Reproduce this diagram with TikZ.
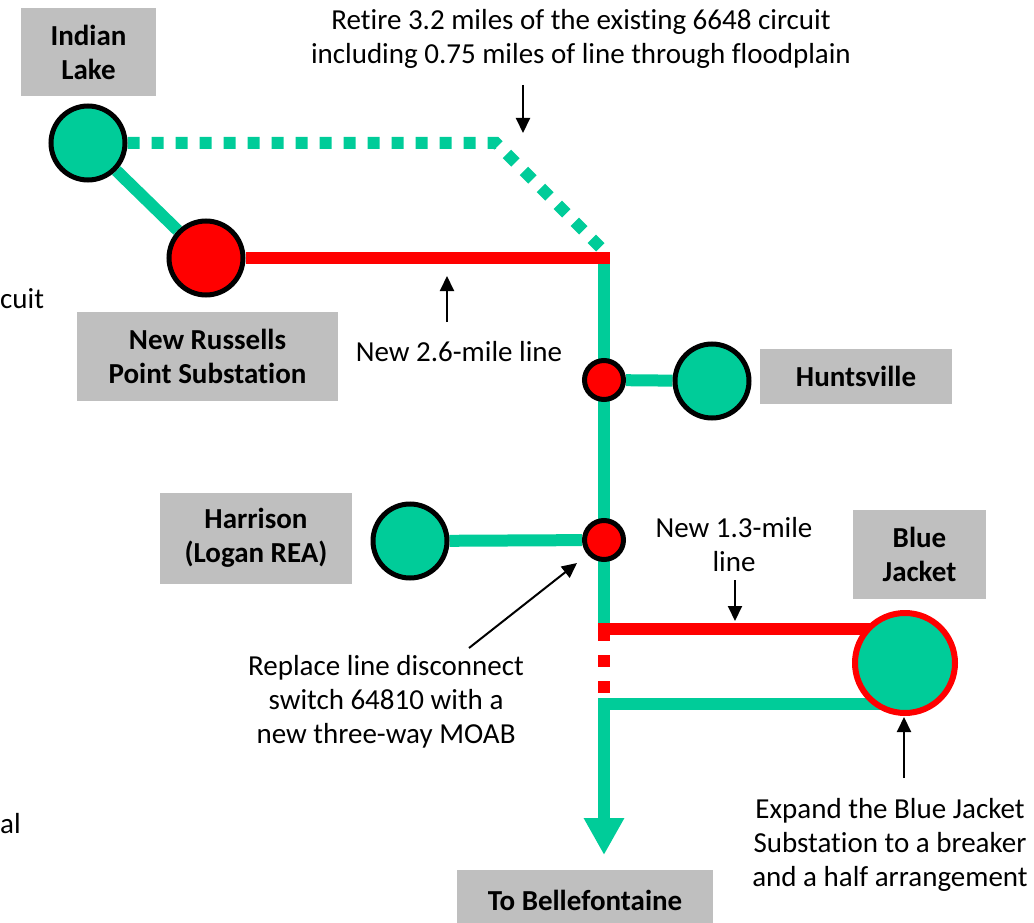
\documentclass[tikz,border=0pt]{standalone}
\usepackage{fontspec}
\setmainfont{Carlito}[Ligatures=NoCommon]
\usetikzlibrary{arrows.meta}
\definecolor{lineteal}{RGB}{0,204,153}
\definecolor{linered}{RGB}{255,0,0}
\definecolor{boxgray}{RGB}{191,191,191}
\pgfdeclarelayer{bg}
\pgfsetlayers{bg,main}
\begin{document}
\begin{tikzpicture}[x=1pt,y=-1pt,
  txt/.style={font=\fontsize{29}{34}\selectfont,align=center,inner sep=0pt},
  place/.style={txt,font=\fontsize{29}{34}\selectfont\bfseries,fill=boxgray},
  sub/.style={circle,draw=black,line width=5pt,fill=lineteal,minimum size=74pt,inner sep=0pt},
  newsub/.style={sub,fill=linered},
  tap/.style={circle,draw=black,line width=5pt,fill=linered,minimum size=39pt,inner sep=0pt},
  tealline/.style={lineteal,line width=12pt},
  redline/.style={linered,line width=12pt},
  callout/.style={-{Triangle[length=15pt,width=14pt]},line width=2pt}]
\useasboundingbox (0,0) rectangle (1034,923);

% Substations and taps
\node[sub] (il) at (88,143) {};
\node[newsub] (nr) at (206,258) {};
\node[tap] (jh) at (604,380) {};
\node[sub] (hv) at (712,381) {};
\node[sub] (hr) at (410,541) {};
\node[tap] (jr) at (604,540) {};
\node[sub,draw=linered,line width=6pt,minimum size=100pt] (bj) at (905,663) {};

% Station labels
\node[place,minimum width=135pt,minimum height=88pt] (ilbox) at (88.5,52) {Indian\\Lake};
\node[place,minimum width=261pt,minimum height=89pt] (nrbox) at (207.5,356) {New Russells\\Point Substation};
\node[place,minimum width=192pt,minimum height=55pt] (hvbox) at (856,376.5) {Huntsville};
\node[place,minimum width=192pt,minimum height=91pt] (hrbox) at (256,538) {Harrison\\(Logan REA)};
\node[place,minimum width=133pt,minimum height=89pt] (bjbox) at (919.5,554) {Blue\\Jacket};
\node[place,minimum width=256pt,minimum height=60pt] (bfbox) at (585,900) {To Bellefontaine};

% Notes
\node[txt] (retire) at (581,39) {Retire 3.2 miles of the existing 6648 circuit\\including 0.75 miles of line through floodplain};
\node[txt] (new26) at (459,352) {New 2.6-mile line};
\node[txt] (new13) at (734,545) {New 1.3-mile\\line};
\node[txt] (replace) at (386,702) {Replace line disconnect\\switch 64810 with a\\new three-way MOAB};
\node[txt] (expand) at (890,845) {Expand the Blue Jacket\\Substation to a breaker\\and a half arrangement};
\node[txt,anchor=west] (cut1) at (0,299) {cuit};
\node[txt,anchor=west] (cut2) at (0,824) {al};

% Line corners
\coordinate (bend) at (496,143);
\coordinate (retend) at (604,251);
\coordinate (vtop) at (604,262);
\coordinate (rtop) at (610,258);
\coordinate (rlow) at (598,629);
\coordinate (vlow) at (604,629);
\coordinate (tlow) at (604,704);
\coordinate (bfend) at (604,855);

\begin{pgfonlayer}{bg}
% existing lines
\draw[tealline] (il) -- (nr);
\draw[tealline] (jh) -- (hv);
\draw[tealline] (hr) -- (jr);
\draw[tealline] (vtop) -- (vlow);
\draw[tealline,-{Triangle[length=37pt,width=38pt]}] (tlow -| bj.center) -- (tlow) -- (bfend);
% retired line
\draw[tealline,dash pattern=on 12pt off 12pt] (il.east) -- (bend) -- (retend);
% new lines
\draw[redline] (nr) -- (rtop);
\draw[redline] (rlow) -- (rlow -| bj.center);
\draw[redline,dash pattern=on 12pt off 14pt] (vlow) -- (604,694);
\end{pgfonlayer}

% Callouts
\coordinate (c1a) at (523,85);  \coordinate (c1b) at (523,133);
\coordinate (c2a) at (447,322); \coordinate (c2b) at (447,276);
\coordinate (c3a) at (735,580); \coordinate (c3b) at (735,621);
\coordinate (c4a) at (469,648); \coordinate (c4b) at (577,563);
\coordinate (c5a) at (904,778); \coordinate (c5b) at (904,717);
\draw[callout] (c1a) -- (c1b);
\draw[callout] (c2a) -- (c2b);
\draw[callout] (c3a) -- (c3b);
\draw[callout] (c4a) -- (c4b);
\draw[callout] (c5a) -- (c5b);
\end{tikzpicture}
\end{document}
